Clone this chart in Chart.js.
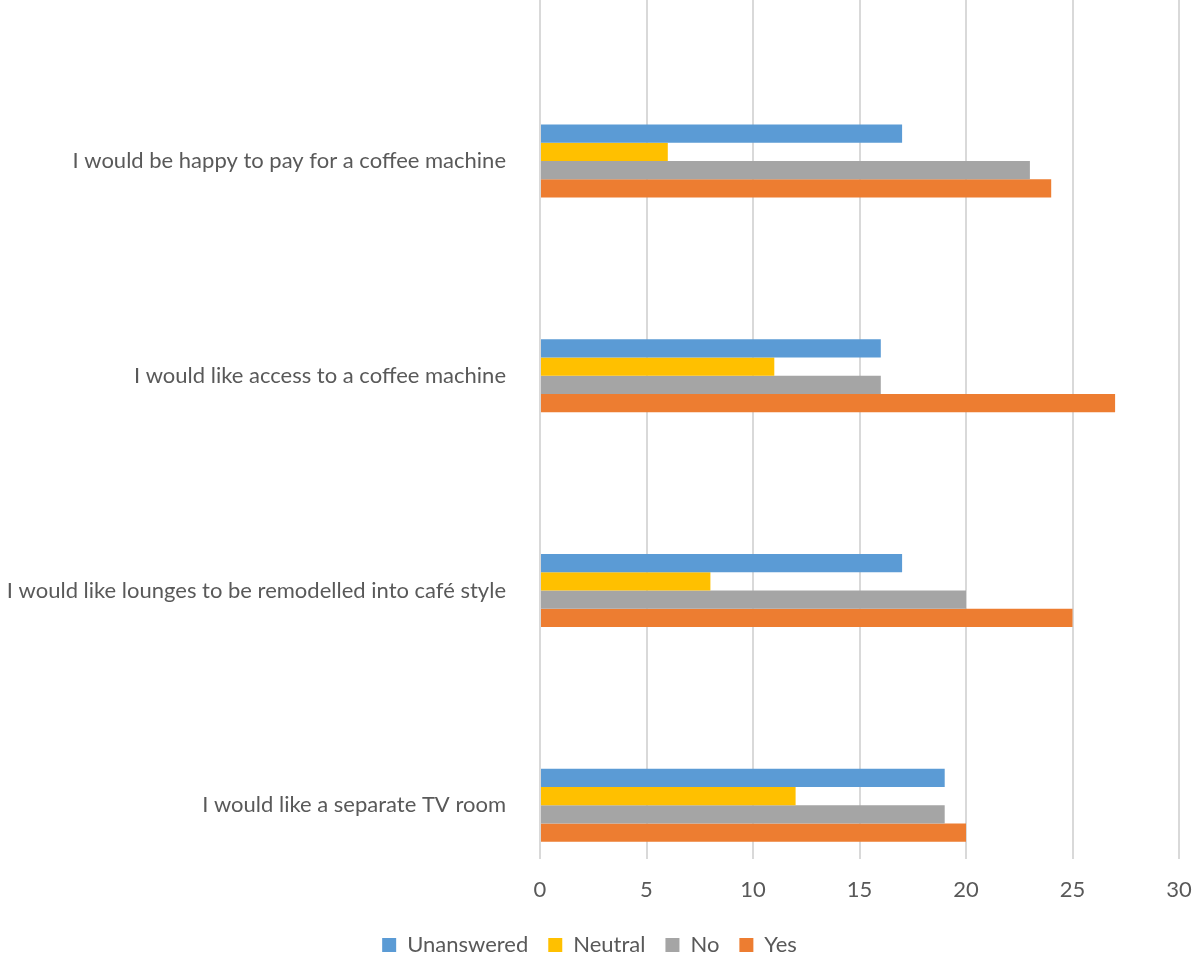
<!DOCTYPE html>
<html>
<head>
<meta charset="utf-8">
<script src="https://cdn.jsdelivr.net/npm/chart.js@4/dist/chart.umd.min.js"></script>
<style>
  html, body { margin: 0; padding: 0; background: #fff; }
  #wrap { width: 1192px; height: 959px; position: relative; }
</style>
</head>
<body>
<div id="wrap"><canvas id="myChart"></canvas></div>
<script>
// survey statements, top to bottom
var categories = [
    "I would be happy to pay for a coffee machine",
    "I would like access to a coffee machine",
    "I would like lounges to be remodelled into café style",
    "I would like a separate TV room"
];
var unanswered = [17, 16, 17, 19];
var neutral    = [6, 11, 8, 12];
var no         = [23, 16, 20, 19];
var yes        = [24, 27, 25, 20];
var xTicks     = [0, 5, 10, 15, 20, 25, 30];

var textColor = '#595959';
var fontFamily = 'Lato, "Open Sans", sans-serif';

function points(values) {
    return values.map(function (v, i) { return { x: v, y: i }; });
}

var ctx = document.getElementById('myChart').getContext('2d');
var chart = new Chart(ctx, {
    type: 'bar',
    data: {
        datasets: [
            { label: 'Unanswered', data: points(unanswered), backgroundColor: '#5B9BD5' },
            { label: 'Neutral',    data: points(neutral),    backgroundColor: '#FFC000' },
            { label: 'No',         data: points(no),         backgroundColor: '#A5A5A5' },
            { label: 'Yes',        data: points(yes),        backgroundColor: '#ED7D31' }
        ]
    },
    options: {
        indexAxis: 'y',
        responsive: true,
        maintainAspectRatio: false,
        animation: false,
        layout: { padding: { left: 0, right: 13, top: 0, bottom: -7 } },
        datasets: {
            bar: { categoryPercentage: 0.34, barPercentage: 1.0, borderWidth: 0 }
        },
        scales: {
            x: {
                type: 'linear',
                min: 0,
                max: 30,
                afterBuildTicks: function (scale) {
                    scale.ticks = xTicks.map(function (v) { return { value: v }; });
                },
                afterFit: function (scale) {
                    scale.height = 55;
                    scale.paddingLeft = 0;
                    scale.paddingRight = 0;
                },
                grid: { color: '#d9d9d9', lineWidth: 2, drawTicks: false },
                border: { display: false },
                ticks: { color: textColor, font: { family: fontFamily, size: 22 }, padding: 18 }
            },
            y: {
                type: 'linear',
                reverse: true,
                offset: false,
                min: -0.75,
                max: 3.25,
                afterBuildTicks: function (scale) {
                    scale.ticks = categories.map(function (c, i) { return { value: i }; });
                },
                afterFit: function (scale) {
                    scale.width = 540;
                    scale.paddingTop = 0;
                    scale.paddingBottom = 0;
                },
                grid: { display: false },
                border: { display: false },
                ticks: {
                    color: textColor,
                    font: { family: fontFamily, size: 22 },
                    padding: 26,
                    callback: function (value) { return categories[value]; }
                }
            }
        },
        plugins: {
            tooltip: { enabled: false },
            legend: {
                position: 'bottom',
                labels: {
                    color: textColor,
                    font: { family: fontFamily, size: 22 },
                    boxWidth: 14,
                    boxHeight: 14,
                    padding: 20
                }
            }
        }
    }
});
</script>
</body>
</html>
